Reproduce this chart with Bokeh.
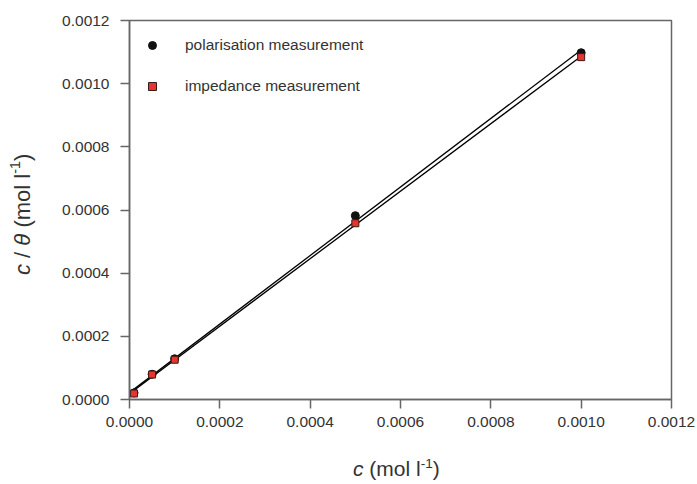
import numpy as np
from bokeh.plotting import figure
from bokeh.models import Range1d, FixedTicker, PrintfTickFormatter, Legend, LegendItem, Div
from bokeh.layouts import row, column
from bokeh.embed import file_html
from bokeh.resources import INLINE

# ---- data ----
conc = [0.00001, 0.00005, 0.0001, 0.0005, 0.001]
polarisation = [0.000021, 0.000080, 0.000129, 0.000582, 0.001098]
impedance = [0.000019, 0.000079, 0.000126, 0.000558, 0.001084]
ticks = [0.0, 0.0002, 0.0004, 0.0006, 0.0008, 0.0010, 0.0012]
series_names = ["polarisation measurement", "impedance measurement"]
x_label_html = '<i>c</i> (mol l<sup style="font-size:0.65em; line-height:0">-1</sup>)'
y_label_html = '<i>c</i> / <i>θ</i> (mol l<sup style="font-size:0.65em">-1</sup>)'

FONT = "Liberation Sans"
YDIV_W = 50

p = figure(width=697 - YDIV_W, height=457, output_backend="svg", toolbar_location=None,
           x_range=Range1d(0, 0.0012), y_range=Range1d(0, 0.0012),
           min_border_left=129 - YDIV_W, min_border_right=26, min_border_top=20, min_border_bottom=58)
p.grid.visible = False
p.outline_line_color = "#666666"
p.outline_line_width = 1.5
p.background_fill_color = "white"
p.border_fill_color = "white"

for ax in (p.xaxis[0], p.yaxis[0]):
    ax.ticker = FixedTicker(ticks=ticks)
    ax.formatter = PrintfTickFormatter(format="%.4f")
    ax.axis_line_color = "#666666"
    ax.axis_line_width = 1.5
    ax.major_tick_line_color = "#666666"
    ax.major_tick_line_width = 1.5
    ax.major_tick_out = 9
    ax.major_tick_in = 0
    ax.minor_tick_line_color = None
    ax.major_label_text_font = FONT
    ax.major_label_text_font_size = "15.5px"
    ax.major_label_text_color = "#333333"
p.xaxis.major_label_standoff = 8
p.yaxis.major_label_standoff = 11

# regression lines computed from data
xs_line = [0.0, max(conc)]
for ys in (polarisation, impedance):
    m, b = np.polyfit(conc, ys, 1)
    p.line(xs_line, [m * x + b for x in xs_line], line_color="black", line_width=1.3)

r_pol = p.scatter(conc, polarisation, marker="circle", size=8, fill_color="#111111", line_color="#111111")
r_imp = p.scatter(conc, impedance, marker="square", size=7, fill_color="#e8342c", line_color="#3a1a1a", line_width=1)

legend = Legend(items=[LegendItem(label=series_names[0], renderers=[r_pol]),
                       LegendItem(label=series_names[1], renderers=[r_imp])],
                location=(13, 303), padding=0, margin=0, spacing=21,
                glyph_width=20, glyph_height=20, label_height=20, label_standoff=23,
                border_line_color=None, background_fill_alpha=0,
                label_text_font=FONT, label_text_font_size="15.5px", label_text_color="#333333")
p.add_layout(legend, "center")

common = {"font-family": FONT, "color": "#333333", "white-space": "nowrap"}
ydiv = Div(text=y_label_html, width=YDIV_W, height=428, margin=0,
           styles=dict(common, **{"font-size": "22px", "writing-mode": "vertical-rl",
                                  "transform": "rotate(180deg)",
                                  "text-align": "center", "line-height": "31px"}))
xdiv = Div(text=x_label_html, width=697, height=27, margin=0,
           styles=dict(common, **{"font-size": "21px", "text-indent": "353px", "line-height": "24px"}))

layout = column(row(ydiv, p), xdiv)
open("out.html", "w").write(file_html(layout, INLINE))
